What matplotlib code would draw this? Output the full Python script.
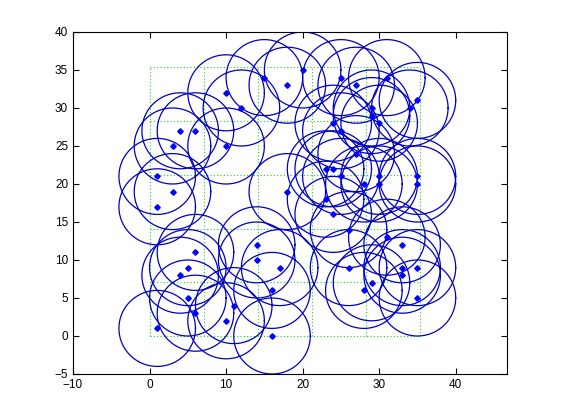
import numpy as np
import matplotlib
matplotlib.use("Agg")
import matplotlib.pyplot as plt

# node positions
xs = [10, 12, 15, 18, 20, 4, 6, 3, 10, 1, 3, 1,
      25, 27, 31, 35, 29, 34, 29, 30, 24, 25, 27, 23, 24, 25, 30, 35, 28, 30, 35, 18, 23, 24,
      6, 5, 4, 5, 6, 1, 10, 11, 16, 14, 14, 17, 16,
      26, 31, 33, 26, 33, 35, 33, 29, 28, 35]
ys = [32, 30, 34, 33, 35, 27, 27, 25, 25, 21, 19, 17,
      34, 33, 34, 31, 30, 30, 29, 28, 28, 27, 24, 22, 22, 21, 21, 21, 20, 20, 20, 19, 18, 16,
      11, 9, 8, 5, 3, 1, 2, 4, 0, 12, 10, 9, 6,
      14, 13, 12, 9, 9, 9, 8, 7, 6, 5]
radius = 5
grid_step = 7.07
grid_n = 5
xticks = [-10, 0, 10, 20, 30, 40]
yticks = [-5, 0, 5, 10, 15, 20, 25, 30, 35, 40]

plt.rcParams['font.family'] = ['Liberation Sans', 'DejaVu Sans']
fig = plt.figure(figsize=(5.61, 4.20), dpi=100)
ax = fig.add_axes([73/561, 46/420, 434/561, 342/420])

# grid
gmax = grid_step * grid_n
for i in range(grid_n + 1):
    g = i * grid_step
    ax.plot([g, g], [0, gmax], color='#22cc22', linestyle=(0, (1, 2)), linewidth=0.8)
    ax.plot([0, gmax], [g, g], color='#22cc22', linestyle=(0, (1, 2)), linewidth=0.8)

t = np.linspace(0, 2*np.pi, 200)
for x, y in zip(xs, ys):
    ax.plot(x + radius*np.cos(t), y + radius*np.sin(t), color='#0000c0', linewidth=0.9)
ax.plot(xs, ys, linestyle='none', marker='D', markersize=2.8, color='#0000ff')

ax.set_xlim(-10, 46.7)
ax.set_ylim(-5, 40)
ax.set_xticks(xticks)
ax.set_yticks(yticks)
ax.tick_params(direction='in', top=True, right=True, length=4, labelsize=8.5, width=0.8)
for s in ax.spines.values():
    s.set_linewidth(0.8)

fig.savefig('out.png', dpi=100)
